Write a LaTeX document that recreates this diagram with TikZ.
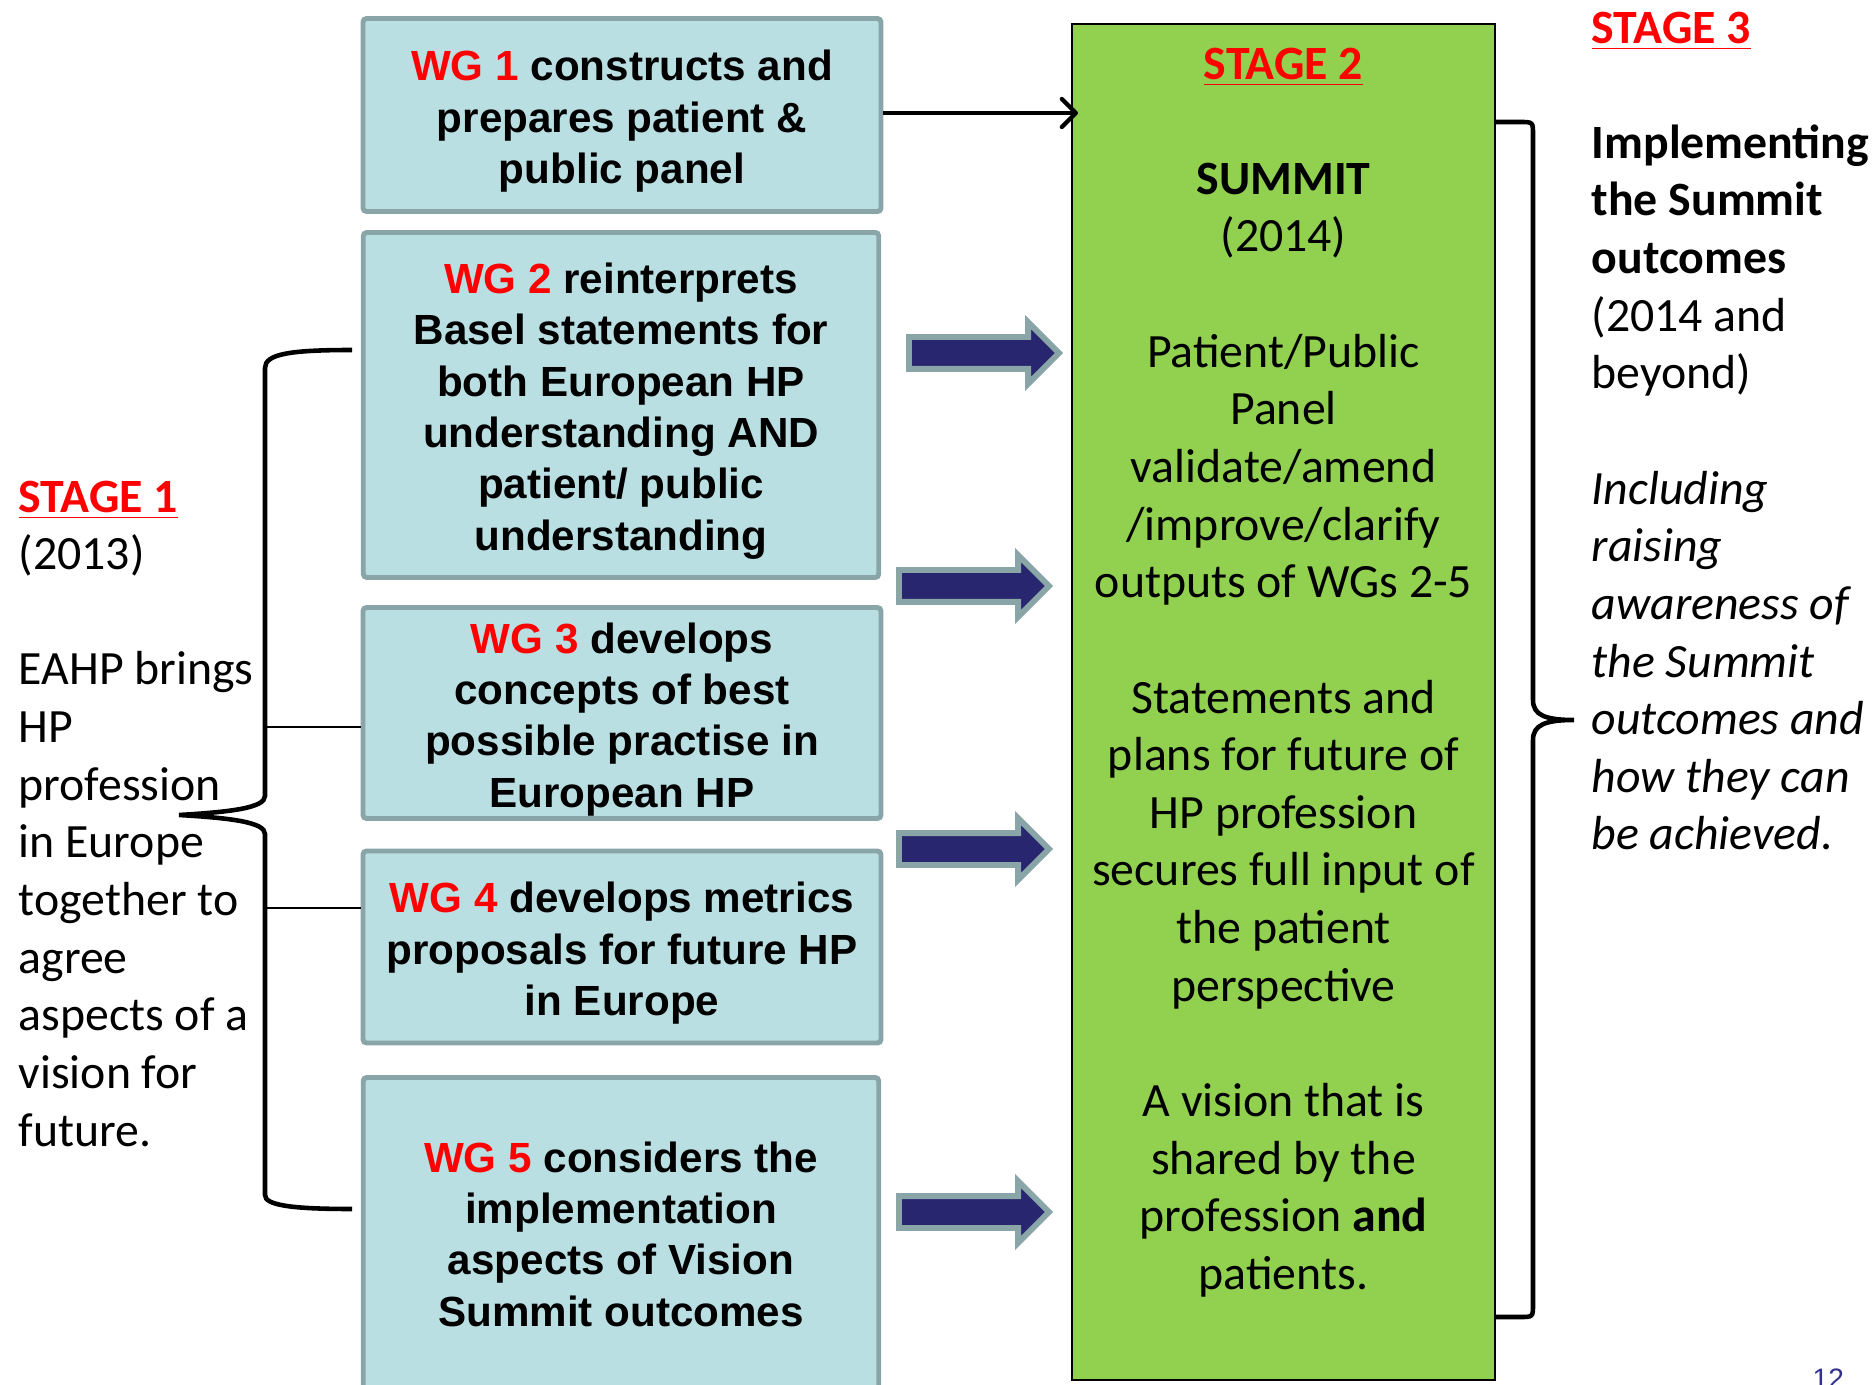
\documentclass[tikz,border=0pt]{standalone}
\usepackage{fontspec}
\setmainfont{Carlito}
\newfontfamily\boxfont{Liberation Sans}
\usetikzlibrary{shapes.arrows,arrows.meta,calc}

\definecolor{wgred}{RGB}{255,0,0}
\definecolor{boxfill}{RGB}{185,223,226}
\definecolor{boxline}{RGB}{138,165,168}
\definecolor{summitgreen}{RGB}{146,208,80}
\definecolor{arrownavy}{RGB}{40,38,110}
\definecolor{slidenum}{RGB}{50,50,140}

\newcommand{\wg}[1]{\textcolor{wgred}{#1}}
\newcommand{\topgap}{\rule{0pt}{12.2pt}}
\newcommand{\stagelabel}[1]{\textcolor{wgred}{\textbf{\underline{#1}}}}

\tikzset{
  wgbox/.style={draw=boxline, fill=boxfill, line width=1.4pt, rounded corners=1pt,
    align=center, inner sep=0pt, font=\boxfont\bfseries\fontsize{12}{14.6}\selectfont},
  summitbox/.style={draw=black, fill=summitgreen, line width=0.6pt},
  plaintext/.style={inner sep=0pt, font=\fontsize{13.6}{16.4}\selectfont},
  fatarrow/.style={single arrow, draw=boxline, fill=arrownavy, line width=1.7pt,
    minimum height=15mm, minimum width=5.7mm, single arrow head extend=1.5mm,
    single arrow tip angle=90, inner xsep=0pt, inner ysep=1.3mm},
  bracket/.style={line width=1.3pt},
  stem/.style={line width=0.85pt}
}

\begin{document}
\begin{tikzpicture}[x=0.1mm,y=-0.1mm]
  \useasboundingbox (0,0) rectangle (1872,1385);

  % Working group boxes
  \node[wgbox, minimum width=51.8mm, minimum height=19.3mm] (wg1) at (622,115)
    {\topgap\wg{WG 1} constructs and\\prepares patient \&\\public panel};
  \node[wgbox, minimum width=51.55mm, minimum height=34.5mm] (wg2) at (621,405)
    {\topgap\wg{WG 2} reinterprets\\Basel statements for\\both European HP\\understanding AND\\patient/ public\\understanding};
  \node[wgbox, minimum width=51.8mm, minimum height=21.1mm] (wg3) at (622,713)
    {\topgap\wg{WG 3} develops\\concepts of best\\possible practise in\\European HP};
  \node[wgbox, minimum width=51.8mm, minimum height=19.2mm] (wg4) at (622,947)
    {\topgap\wg{WG 4} develops metrics\\proposals for future HP\\in Europe};
  \node[wgbox, minimum width=51.55mm, minimum height=31.3mm] (wg5) at (621,1234)
    {\wg{WG 5} considers the\\implementation\\aspects of Vision\\Summit outcomes};

  % Stage 2 column
  \node[summitbox, minimum width=42.3mm, minimum height=135.6mm] (summit) at (1283.5,702) {};
  \node[plaintext, anchor=north, align=center] (summittext) at (1283.5,47)
    {\stagelabel{STAGE 2}\\[\baselineskip]\textbf{SUMMIT}\\(2014)\\[\baselineskip]Patient/Public\\Panel\\validate/amend\\/improve/clarify\\outputs of WGs 2-5\\[\baselineskip]Statements and\\plans for future of\\HP profession\\secures full input of\\the patient\\perspective\\[\baselineskip]A vision that is\\shared by the\\profession \textbf{and}\\patients.};

  % Stage 1 and stage 3 texts
  \node[plaintext, anchor=north west, align=left] (stage1) at (18,480)
    {\stagelabel{STAGE 1}\\(2013)\\[\baselineskip]EAHP brings\\HP\\profession\\in Europe\\together to\\agree\\aspects of a\\vision for\\future.};
  \node[plaintext, anchor=north west, align=left] (stage3) at (1591,11)
    {\stagelabel{STAGE 3}\\[\baselineskip]\textbf{Implementing}\\\textbf{the Summit}\\\textbf{outcomes}\\(2014 and\\beyond)\\[\baselineskip]\textit{Including}\\\textit{raising}\\\textit{awareness of}\\\textit{the Summit}\\\textit{outcomes and}\\\textit{how they can}\\\textit{be achieved.}};

  % Arrows into the summit
  \draw[line width=1.2pt, -{Straight Barb[length=4pt,width=8pt,round]}]
    (wg1.east |- 0,113) -- ($(summit.west |- 0,113)+(7,0)$);
  \node[fatarrow, anchor=tail] (arrow1) at (906,353) {};
  \node[fatarrow, anchor=tail] (arrow2) at (896,586) {};
  \node[fatarrow, anchor=tail] (arrow3) at (896,849) {};
  \node[fatarrow, anchor=tail] (arrow4) at (896,1212) {};

  % Brackets
  \draw[bracket] (352,350) .. controls (290,350) and (265,354) .. (265,368) -- (265,796)
    .. controls (265,808) and (230,812) .. (179,815)
    .. controls (230,818) and (265,822) .. (265,834) -- (265,1195)
    .. controls (265,1205) and (290,1209) .. (352,1209);
  \draw[stem] (265,727) -- (wg3.west |- 0,727);
  \draw[stem] (265,908) -- (wg4.west |- 0,908);
  \draw[bracket] (summit.east |- 0,122) -- (1520,122) .. controls (1533,122) .. (1533,135)
    -- (1533,700) .. controls (1533,715) and (1545,720) .. (1574,720)
    .. controls (1545,720) and (1533,725) .. (1533,740) -- (1533,1304)
    .. controls (1533,1317) .. (1520,1317) -- (summit.east |- 0,1317);

  % Slide number
  \node[anchor=base west, inner sep=0pt, text=slidenum, font=\boxfont\fontsize{8}{9}\selectfont]
    (pagenum) at (1812,1388) {12};
\end{tikzpicture}
\end{document}
